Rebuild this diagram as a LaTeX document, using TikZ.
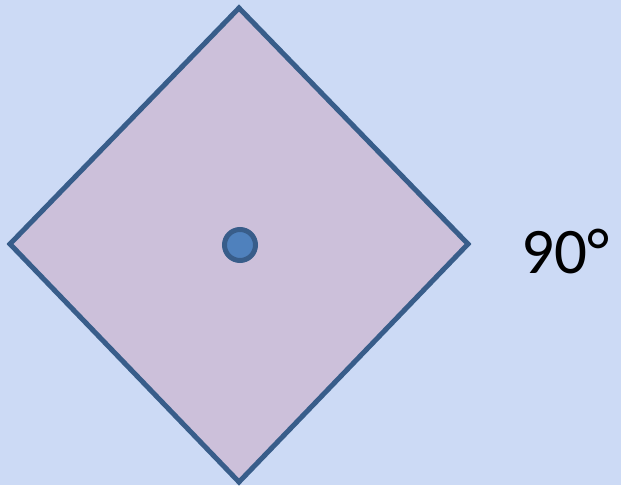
\documentclass[tikz,border=0pt]{standalone}
\usepackage{fontspec}
\setsansfont{Carlito}
\usepackage{xcolor}
\definecolor{bgblue}     {RGB}{204, 218, 245}
\definecolor{squarefill} {RGB}{204, 192, 218}
\definecolor{edgeblue}   {RGB}{ 56,  93, 138}
\definecolor{dotblue}    {RGB}{ 79, 129, 189}

\begin{document}
\begin{tikzpicture}[x=1pt, y=-1pt]
    \fill[bgblue] (0,0) rectangle (621,485);
    \useasboundingbox (0,0) rectangle (621,485);
    % corners of the turned square
    \coordinate (top)    at (239,8);
    \coordinate (right)  at (468,244);
    \coordinate (bottom) at (239,482);
    \coordinate (left)   at (10,244);
    \filldraw[fill=squarefill, draw=edgeblue, line width=5pt, line join=miter]
      (top) -- (right) -- (bottom) -- (left) -- cycle;
    \node[circle, fill=dotblue, draw=edgeblue, line width=5pt,
          minimum size=31pt, inner sep=0pt] (pivot) at (240,245) {};
    \node[anchor=base west, inner sep=0pt, font=\sffamily\fontsize{65}{65}\selectfont]
      (angle) at (521,273) {90°};
  \end{tikzpicture}
\end{document}
